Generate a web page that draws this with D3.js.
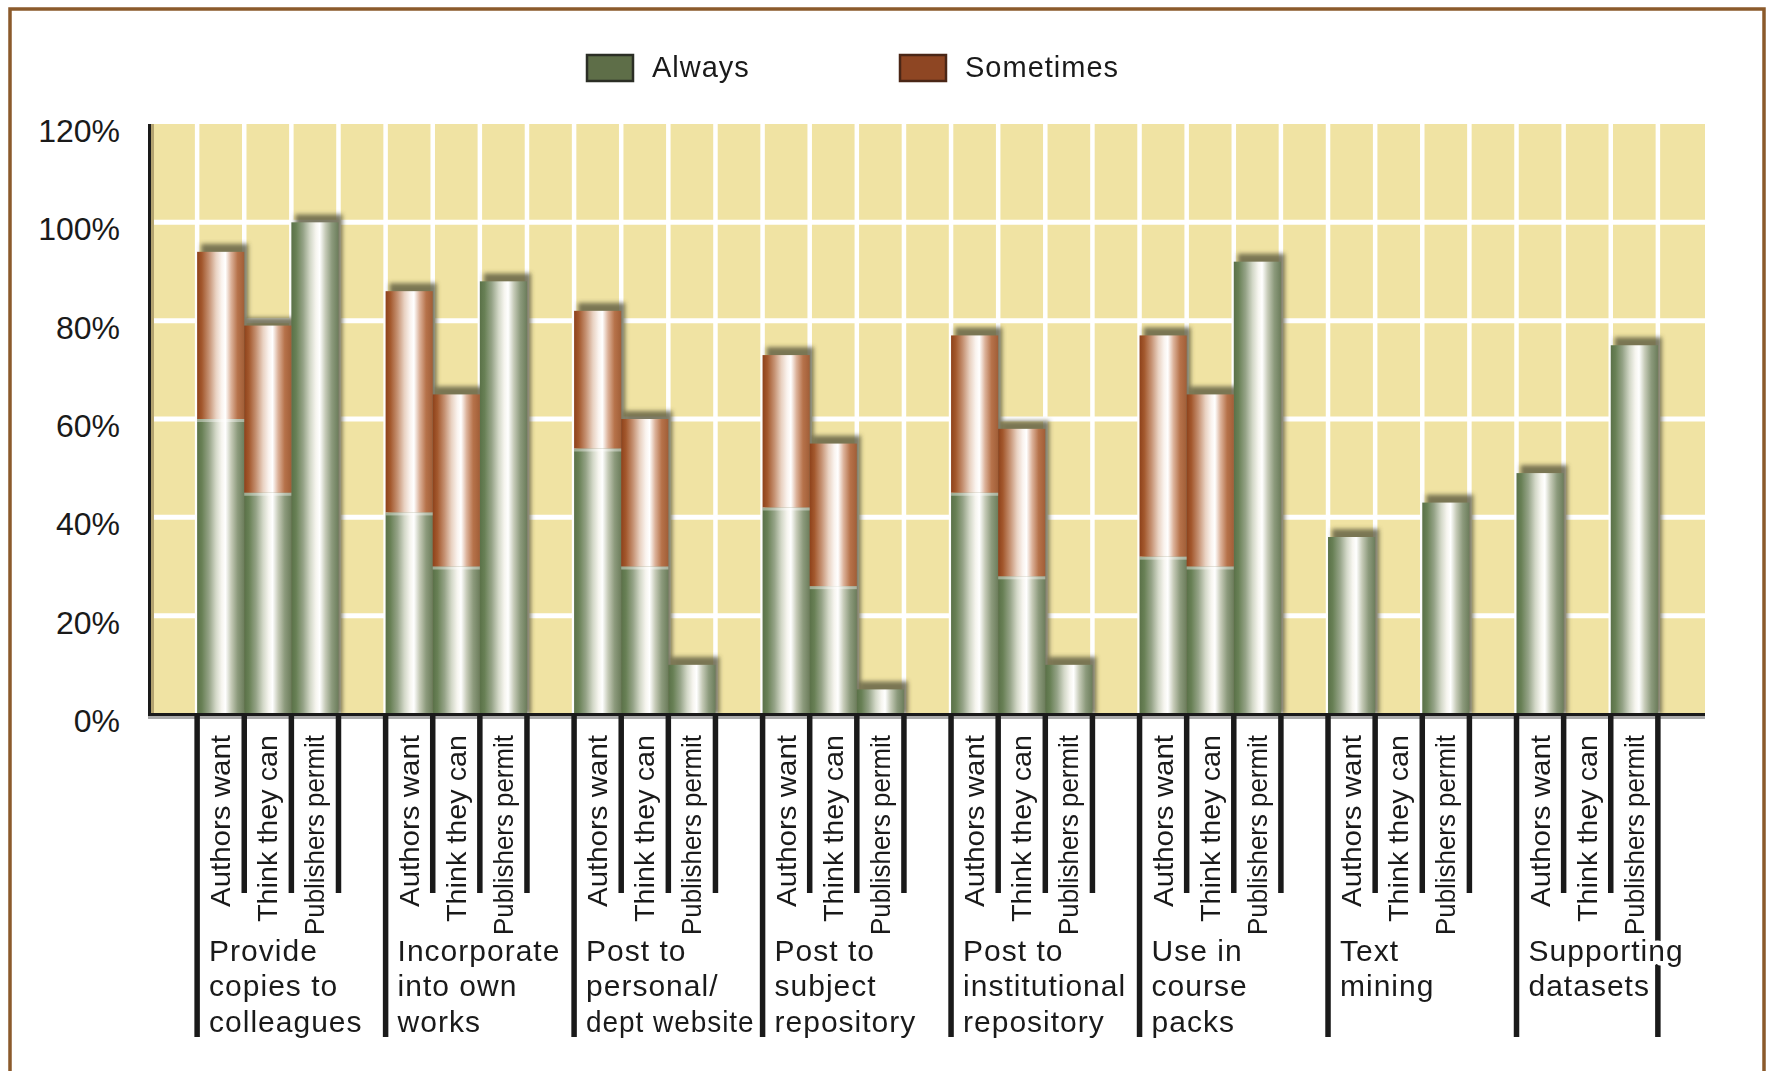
<!DOCTYPE html>
<html>
<head>
<meta charset="utf-8">
<script src="https://cdn.jsdelivr.net/npm/d3@7"></script>
<style>
  html, body { margin: 0; padding: 0; background: #ffffff; }
  svg { display: block; }
  text { font-family: "Liberation Sans", Arial, sans-serif; fill: #1a1a1a; }
</style>
</head>
<body>
<script>
// ---------------- DATA ----------------
const groupLabels = [
  ["Provide", "copies to", "colleagues"],
  ["Incorporate", "into own", "works"],
  ["Post to", "personal/", "dept website"],
  ["Post to", "subject", "repository"],
  ["Post to", "institutional", "repository"],
  ["Use in", "course", "packs"],
  ["Text", "mining"],
  ["Supporting", "datasets"]
];
const respondents = ["Authors want", "Think they can", "Publishers permit"];
const seriesNames = ["Always", "Sometimes"];
// value per group: [Authors want, Think they can, Publishers permit]
const alwaysValues = [
  [60, 45, 100],
  [41, 30, 88],
  [54, 30, 10],
  [42, 26, 5],
  [45, 28, 10],
  [32, 30, 92],
  [36, null, 43],
  [49, null, 75]
];
const sometimesValues = [
  [34, 34, 0],
  [45, 35, 0],
  [28, 30, 0],
  [31, 29, 0],
  [32, 30, 0],
  [45, 35, 0],
  [0, null, 0],
  [0, null, 0]
];
const yTicks = [0, 20, 40, 60, 80, 100, 120];
const yTickLabels = ["0%", "20%", "40%", "60%", "80%", "100%", "120%"];

// ---------------- LAYOUT ----------------
const W = 1770, H = 1071;
const plot = { left: 150, right: 1705, top: 124, bottom: 714 };
const rotatedLabelLength = [172, 187, 200];   // drawn length of the vertical labels

const svg = d3.select("body").append("svg").attr("width", W).attr("height", H);
const defs = svg.append("defs");

function cyl(id, stops) {
  const g = defs.append("linearGradient").attr("id", id)
    .attr("x1", "0").attr("x2", "1").attr("y1", "0").attr("y2", "0");
  stops.forEach(s => g.append("stop").attr("offset", s[0]).attr("stop-color", s[1]));
}
cyl("gGreen", [[0, "#5a7148"], [0.1, "#688055"], [0.25, "#95a387"], [0.4, "#d3d8c8"],
               [0.52, "#f6f5ef"], [0.6, "#ffffff"], [0.72, "#c6cbb8"], [0.86, "#8c9a7c"], [1, "#6c7d5b"]]);
cyl("gOrange", [[0, "#8e421b"], [0.1, "#a3582d"], [0.25, "#c59172"], [0.4, "#e9d2c2"],
                [0.52, "#faf3ee"], [0.6, "#ffffff"], [0.72, "#dcb29a"], [0.86, "#b6724a"], [1, "#a15e37"]]);
defs.append("filter").attr("id", "blur").attr("x", "-50%").attr("y", "-50%")
  .attr("width", "200%").attr("height", "200%")
  .append("feGaussianBlur").attr("stdDeviation", 2.2);

// slots: leading gap + per group (3 bars + gap)
const slots = ["gap-start"];
groupLabels.forEach((g, gi) => {
  respondents.forEach((r, ri) => slots.push(`g${gi}-r${ri}`));
  slots.push(`g${gi}-gap`);
});
const x = d3.scaleBand().domain(slots).range([plot.left, plot.right]).paddingInner(0).paddingOuter(0);
const y = d3.scaleLinear().domain([0, 120]).range([plot.bottom, plot.top]);

// bar records
const bars = [];
groupLabels.forEach((g, gi) => {
  respondents.forEach((r, ri) => {
    const a = alwaysValues[gi][ri];
    if (a === null) return;
    const s = sometimesValues[gi][ri] || 0;
    bars.push({ slot: `g${gi}-r${ri}`, always: a, sometimes: s });
  });
});

// ---------------- PLOT BACKGROUND & GRID ----------------
svg.append("rect").attr("x", plot.left).attr("y", plot.top)
  .attr("width", plot.right - plot.left).attr("height", plot.bottom - plot.top)
  .attr("fill", "#f0e3a3");

svg.append("g").selectAll("line").data(yTicks.filter(t => t > 0 && t < 120)).join("line")
  .attr("x1", plot.left).attr("x2", plot.right)
  .attr("y1", d => y(d)).attr("y2", d => y(d))
  .attr("stroke", "#ffffff").attr("stroke-width", 5);

svg.append("g").selectAll("line").data(slots.slice(1)).join("line")
  .attr("x1", d => x(d)).attr("x2", d => x(d))
  .attr("y1", plot.top).attr("y2", plot.bottom)
  .attr("stroke", "#ffffff").attr("stroke-width", 4.5);

// ---------------- BARS ----------------
const bw = x.bandwidth();
// shadows (cap above + right side)
svg.append("g").attr("filter", "url(#blur)").selectAll("rect").data(bars).join("rect")
  .attr("x", d => x(d.slot) + 4).attr("y", d => y(d.always + d.sometimes) - 8)
  .attr("width", bw).attr("height", d => plot.bottom - y(d.always + d.sometimes) + 8)
  .attr("fill", "#5d5a3e").attr("opacity", 0.8);

const barG = svg.append("g");
barG.selectAll("rect.always").data(bars).join("rect").attr("class", "always")
  .attr("x", d => x(d.slot)).attr("width", bw)
  .attr("y", d => y(d.always)).attr("height", d => plot.bottom - y(d.always))
  .attr("fill", "url(#gGreen)");
barG.selectAll("rect.some").data(bars.filter(d => d.sometimes > 0)).join("rect").attr("class", "some")
  .attr("x", d => x(d.slot)).attr("width", bw)
  .attr("y", d => y(d.always + d.sometimes)).attr("height", d => y(d.always) - y(d.always + d.sometimes))
  .attr("fill", "url(#gOrange)");
barG.selectAll("rect.join").data(bars.filter(d => d.sometimes > 0)).join("rect").attr("class", "join")
  .attr("x", d => x(d.slot)).attr("width", bw)
  .attr("y", d => y(d.always)).attr("height", 3)
  .attr("fill", "#ffffff").attr("opacity", 0.4);

// ---------------- AXES ----------------
svg.append("rect").attr("x", plot.left + 1).attr("y", plot.top).attr("width", 3)
  .attr("height", plot.bottom - plot.top).attr("fill", "#b3a370");
svg.append("line").attr("x1", plot.left - 0.5).attr("x2", plot.left - 0.5)
  .attr("y1", plot.top).attr("y2", plot.bottom + 2)
  .attr("stroke", "#1a1a1a").attr("stroke-width", 3);
svg.append("line").attr("x1", plot.left - 2).attr("x2", plot.right)
  .attr("y1", plot.bottom + 3.5).attr("y2", plot.bottom + 3.5)
  .attr("stroke", "#aaaaaa").attr("stroke-width", 3);
svg.append("line").attr("x1", plot.left - 2).attr("x2", plot.right)
  .attr("y1", plot.bottom + 0.5).attr("y2", plot.bottom + 0.5)
  .attr("stroke", "#1a1a1a").attr("stroke-width", 3);

// y tick labels via d3 axis
const yAxis = d3.axisLeft(y).tickValues(yTicks)
  .tickFormat((d, i) => yTickLabels[i]).tickSize(0).tickPadding(0);
const yAxisG = svg.append("g").attr("transform", `translate(${plot.left - 30},0)`).call(yAxis);
yAxisG.select(".domain").remove();
yAxisG.selectAll("text").attr("font-family", "Liberation Sans, Arial, sans-serif").attr("font-size", 32)
  .attr("fill", "#1a1a1a").attr("dy", "0.55em");

// ---------------- CATEGORY TICKS & LABELS ----------------
const tickG = svg.append("g");
const tickData = [];
groupLabels.forEach((g, gi) => {
  tickData.push({ x: x(`g${gi}-r0`), long: true });
  tickData.push({ x: x(`g${gi}-r1`), long: false });
  tickData.push({ x: x(`g${gi}-r2`), long: false });
  tickData.push({ x: x(`g${gi}-gap`), long: gi === groupLabels.length - 1 });
});
tickG.selectAll("line").data(tickData).join("line")
  .attr("x1", d => d.x).attr("x2", d => d.x)
  .attr("y1", plot.bottom + 2).attr("y2", d => d.long ? 1037 : 893)
  .attr("stroke", "#1a1a1a").attr("stroke-width", 5.5);

const labG = svg.append("g");
const lastG = groupLabels.length - 1;
groupLabels.forEach((g, gi) => {
  const gx = x(`g${gi}-r0`) + 12;
  const t = labG.append("text").attr("x", gx).attr("y", 961).attr("font-size", 30)
    .attr("letter-spacing", 1);
  if (gi === lastG) {
    // the last label runs across the closing line: white halo breaks the line
    t.attr("stroke", "#ffffff").attr("stroke-width", 9).attr("paint-order", "stroke")
      .attr("stroke-linejoin", "round");
  }
  g.forEach((line, li) => {
    const ts = t.append("tspan").attr("x", gx).attr("dy", li === 0 ? 0 : 35.3).text(line);
    if (gi < lastG) {
      const avail = x(`g${gi + 1}-r0`) - gx - 8;
      const len = ts.node().getComputedTextLength();
      if (len > avail) ts.attr("textLength", avail).attr("lengthAdjust", "spacingAndGlyphs");
    }
  });
});
groupLabels.forEach((g, gi) => {
  respondents.forEach((r, ri) => {
    const sx = x(`g${gi}-r${ri}`);
    labG.append("text")
      .attr("transform", `translate(${sx + 33},735) rotate(-90)`)
      .attr("text-anchor", "end")
      .attr("font-size", 28)
      .attr("textLength", rotatedLabelLength[ri])
      .attr("lengthAdjust", "spacingAndGlyphs")
      .text(r);
  });
});

// ---------------- LEGEND ----------------
const legendX = [587, 900];
const legendFill = ["#5e6e48", "#8e4623"];
const legendStroke = ["#2b2e25", "#4a2616"];
const leg = svg.append("g");
seriesNames.forEach((name, i) => {
  leg.append("rect").attr("x", legendX[i]).attr("y", 55).attr("width", 46).attr("height", 26)
    .attr("fill", legendFill[i]).attr("stroke", legendStroke[i]).attr("stroke-width", 2.5);
  leg.append("text").attr("x", legendX[i] + 65).attr("y", 77).attr("font-size", 29)
    .attr("letter-spacing", 1).text(name);
});

// ---------------- FRAME ----------------
svg.append("rect").attr("x", 10).attr("y", 9).attr("width", 1754).attr("height", 1120)
  .attr("fill", "none").attr("stroke", "#8b5a2b").attr("stroke-width", 3.5);
</script>
</body>
</html>
